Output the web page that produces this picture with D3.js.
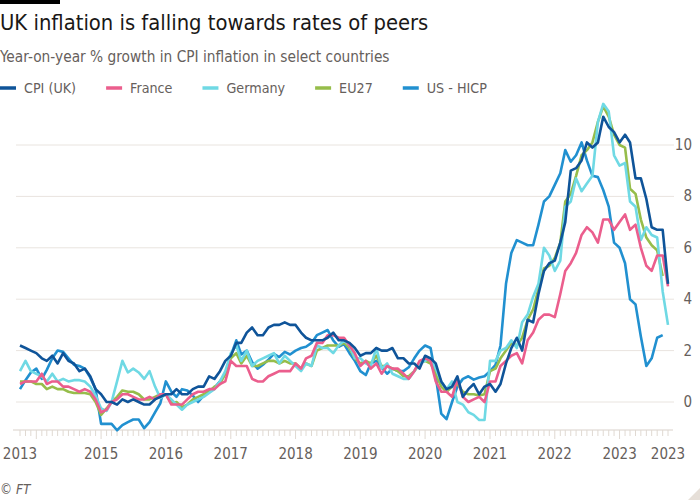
<!DOCTYPE html>
<html><head><meta charset="utf-8">
<script src="https://cdn.jsdelivr.net/npm/d3@7"></script>
<style>
body{margin:0;background:#fff;}
svg{display:block;}
text{font-family:"Liberation Sans Narrow","DejaVu Sans Condensed","Roboto",sans-serif;}
</style></head><body>
<svg id="chart" width="700" height="500"></svg>
<script>
const seriesNames = ["CPI (UK)", "France", "Germany", "EU27", "US - HICP"];
const seriesColors = ["#0f5499", "#eb5e8d", "#6fd9e4", "#96bd4a", "#2190d0"];
const startYear = 2013, startMonth = 9; // Oct 2013

const ukValues = [2.2,2.1,2.0,
 1.9,1.7,1.6,1.8,1.5,1.9,1.6,1.5,1.2,1.3,1.0,0.5,
 0.3,0.0,0.0,-0.1,0.1,0.0,0.1,0.0,-0.1,-0.1,0.1,0.2,
 0.3,0.3,0.5,0.3,0.3,0.5,0.6,0.6,1.0,0.9,1.2,1.6,
 1.8,2.3,2.3,2.7,2.9,2.6,2.6,2.9,3.0,3.0,3.1,3.0,
 3.0,2.7,2.5,2.4,2.4,2.4,2.5,2.7,2.4,2.4,2.3,2.1,
 1.8,1.9,1.9,2.1,2.0,2.0,2.1,1.7,1.7,1.5,1.5,1.3,
 1.8,1.7,1.5,0.8,0.5,0.6,1.0,0.2,0.5,0.7,0.3,0.6,
 0.7,0.4,0.7,1.5,2.1,2.5,2.0,3.2,3.1,4.2,5.1,5.4,
 5.5,6.2,7.0,9.0,9.1,9.4,10.1,9.9,10.1,11.1,10.7,10.5,
 10.1,10.4,10.1,8.7,8.7,7.9,6.8,6.7,6.7,4.6];

const franceValues = [0.7,0.8,0.8,
 0.8,1.1,0.7,0.8,0.8,0.6,0.6,0.5,0.4,0.5,0.4,0.1,
 -0.4,-0.3,0.0,0.1,0.3,0.3,0.2,0.1,0.1,0.2,0.1,0.3,
 0.3,-0.1,-0.1,-0.1,0.1,0.3,0.4,0.4,0.5,0.5,0.7,0.8,
 1.6,1.4,1.4,1.4,0.9,0.8,0.8,1.0,1.1,1.2,1.2,1.2,
 1.5,1.3,1.7,1.8,2.3,2.3,2.6,2.6,2.5,2.5,2.2,1.9,
 1.4,1.6,1.3,1.5,1.1,1.4,1.3,1.3,1.1,0.9,1.2,1.6,
 1.7,1.6,0.8,0.4,0.4,0.2,0.9,0.2,0.0,0.1,0.2,0.0,
 0.8,0.8,1.4,1.6,1.8,1.9,1.5,2.4,2.7,3.2,3.4,3.4,
 3.3,4.2,5.1,5.4,5.8,6.5,6.8,6.6,6.2,7.1,7.1,6.7,
 7.0,7.3,6.7,6.9,6.0,5.3,5.1,5.7,5.7,4.5];

const germanyValues = [1.2,1.6,1.2,
 1.1,1.0,0.8,1.1,0.8,0.9,0.8,0.85,0.85,0.8,0.6,0.25,
 -0.25,-0.35,0.0,0.8,1.6,1.15,1.3,1.15,0.9,1.2,0.6,0.15,
 0.3,0.1,-0.1,-0.3,-0.1,0.0,0.1,0.2,0.35,0.5,0.8,1.2,
 1.9,2.2,1.6,2.0,1.4,1.6,1.7,1.8,1.9,1.5,1.8,1.6,
 1.4,1.2,1.5,1.4,2.2,2.1,2.1,1.9,2.2,2.4,2.2,1.7,
 1.7,1.5,1.4,2.1,1.3,1.5,1.1,1.0,0.9,0.9,1.2,1.5,
 1.6,1.7,1.3,0.8,0.5,0.8,0.0,-0.1,-0.4,-0.5,-0.7,-0.7,
 1.6,1.6,2.0,2.1,2.4,2.1,3.1,3.4,4.1,4.6,6.0,5.7,
 5.1,5.5,7.6,7.8,8.7,8.2,8.5,8.8,10.9,11.6,11.3,9.6,
 9.2,9.3,7.8,7.6,6.3,6.8,6.5,6.4,4.3,3.0];

const eu27Values = [0.8,0.8,0.8,
 0.7,0.7,0.5,0.6,0.5,0.5,0.4,0.35,0.35,0.35,0.3,0.0,
 -0.5,-0.25,0.0,0.2,0.45,0.4,0.4,0.3,0.1,0.1,0.2,0.3,
 0.3,-0.05,0.0,-0.2,-0.1,0.1,0.2,0.3,0.4,0.6,0.7,1.1,
 1.7,1.9,1.5,1.8,1.4,1.4,1.5,1.6,1.6,1.5,1.6,1.5,
 1.5,1.3,1.5,1.4,2.0,2.1,2.2,2.2,2.2,2.3,2.1,1.7,
 1.5,1.6,1.5,1.8,1.4,1.4,1.3,1.2,1.0,1.0,1.2,1.5,
 1.6,1.5,1.1,0.6,0.4,0.6,0.7,0.4,0.3,0.3,0.25,0.3,
 1.2,1.3,1.7,2.0,2.3,2.2,2.5,3.2,3.6,4.4,5.2,5.3,
 5.6,6.2,7.8,8.1,8.8,9.6,9.8,10.1,10.9,11.5,11.1,10.4,
 10.0,9.9,8.3,8.1,7.1,6.4,6.1,5.9,4.9];

const usHicpValues = [0.5,0.85,1.15,
 1.3,0.9,1.25,1.7,2.0,1.95,1.7,1.45,1.4,1.3,0.95,0.5,
 -0.85,-0.85,-0.85,-1.1,-0.9,-0.78,-0.68,-0.68,-1.02,-0.78,-0.4,-0.05,
 0.8,0.4,0.2,0.5,0.45,0.25,0.0,0.25,0.45,0.55,0.8,1.1,
 1.8,2.4,1.85,2.0,1.55,1.3,1.45,1.65,1.87,1.75,1.95,1.85,
 2.0,2.1,2.15,2.3,2.6,2.7,2.8,2.4,2.15,2.25,1.9,1.6,
 1.2,1.05,1.5,1.6,1.35,1.1,1.3,1.2,1.2,1.35,1.7,2.0,
 2.2,2.1,1.0,-0.45,-0.67,0.0,0.6,0.9,1.0,0.87,0.95,1.0,
 1.2,1.45,2.2,4.6,5.8,6.3,6.2,6.1,6.1,6.9,7.8,8.0,
 8.45,8.9,9.8,9.35,9.6,10.1,9.4,8.8,8.75,8.25,7.6,6.2,
 6.0,5.4,4.0,3.8,2.55,1.4,1.7,2.5,2.6];

const yTickValues = [0, 2, 4, 6, 8, 10];
const xTickLabelDates = [[2013,9],[2015,0],[2016,0],[2017,0],[2018,0],[2019,0],[2020,0],[2021,0],[2022,0],[2023,0],[2023,9]];

const seriesValues = [ukValues, franceValues, germanyValues, eu27Values, usHicpValues];
const dateOf = i => new Date(startYear, startMonth + i, 1);

const svg = d3.select("#chart");
const W = 700, H = 500;
const plot = {left: 20, right: 668, top: 145, bottom: 402};

const x = d3.scaleTime().domain([dateOf(0), dateOf(120)]).range([plot.left, plot.right]);
const y = d3.scaleLinear().domain([0, 10]).range([plot.bottom, plot.top]);

// FT top bar
svg.append("rect").attr("x",0).attr("y",0).attr("width",60).attr("height",4).attr("fill","#000");

// Title & subtitle
svg.append("text").attr("x",0).attr("y",30).attr("font-size",21.8).attr("fill","#1a1817")
  .text("UK inflation is falling towards rates of peers");
svg.append("text").attr("x",0).attr("y",62).attr("font-size",15.3).attr("fill","#66605c")
  .text("Year-on-year % growth in CPI inflation in select countries");

// Legend
const legend = svg.append("g").attr("transform","translate(0,88)");
let lx = 0;
seriesNames.forEach((name, i) => {
  const g = legend.append("g").attr("transform",`translate(${lx},0)`);
  g.append("line").attr("x1",0).attr("x2",16).attr("y1",0).attr("y2",0)
    .attr("stroke",seriesColors[i]).attr("stroke-width",3.5);
  const t = g.append("text").attr("x",24).attr("y",5).attr("font-size",14.2).attr("fill","#66605c").text(name);
  lx += 24 + t.node().getComputedTextLength() + 30;
});

// Gridlines & y labels
const grid = svg.append("g");
yTickValues.forEach(v => {
  grid.append("line").attr("x1",16).attr("x2",674).attr("y1",y(v)).attr("y2",y(v))
    .attr("stroke","#e9e4df").attr("stroke-width",1);
  grid.append("text").attr("x",692).attr("y",y(v)+5).attr("text-anchor","end")
    .attr("font-size",15).attr("fill","#66605c").text(v);
});

// X axis
const axisY = 430;
const xAxis = svg.append("g");
xAxis.append("line").attr("x1",13).attr("x2",673).attr("y1",axisY).attr("y2",axisY)
  .attr("stroke","#d9d1ca").attr("stroke-width",1);
d3.range(0,121).forEach(i => {
  const isYear = dateOf(i).getMonth() === 0;
  xAxis.append("line").attr("x1",x(dateOf(i))).attr("x2",x(dateOf(i)))
    .attr("y1",axisY).attr("y2",axisY + (isYear ? 9 : 6))
    .attr("stroke","#e0d9d2").attr("stroke-width",1);
});
xTickLabelDates.forEach(([yy,mm]) => {
  const d = new Date(yy, mm, 1);
  xAxis.append("text").attr("x",x(d)).attr("y",459).attr("text-anchor","middle")
    .attr("font-size",15).attr("fill","#66605c").text(yy);
});

// Lines
const line = d3.line().x((d,i) => x(dateOf(i))).y(d => y(d)).curve(d3.curveLinear);
const drawOrder = [4, 3, 2, 1, 0];
drawOrder.forEach(k => {
  svg.append("path").datum(seriesValues[k]).attr("d", line)
    .attr("fill","none").attr("stroke",seriesColors[k]).attr("stroke-width",2.6)
    .attr("stroke-linejoin","round").attr("stroke-linecap","butt");
});

// Source
svg.append("text").attr("x",0).attr("y",494).attr("font-size",13.5).attr("font-style","italic")
  .attr("fill","#66605c").text("© FT");

// corner mark
svg.append("path").attr("d",`M${W},${H-12}L${W},${H}L${W-12},${H}Z`).attr("fill","#e6dfd8");
</script>
</body></html>
